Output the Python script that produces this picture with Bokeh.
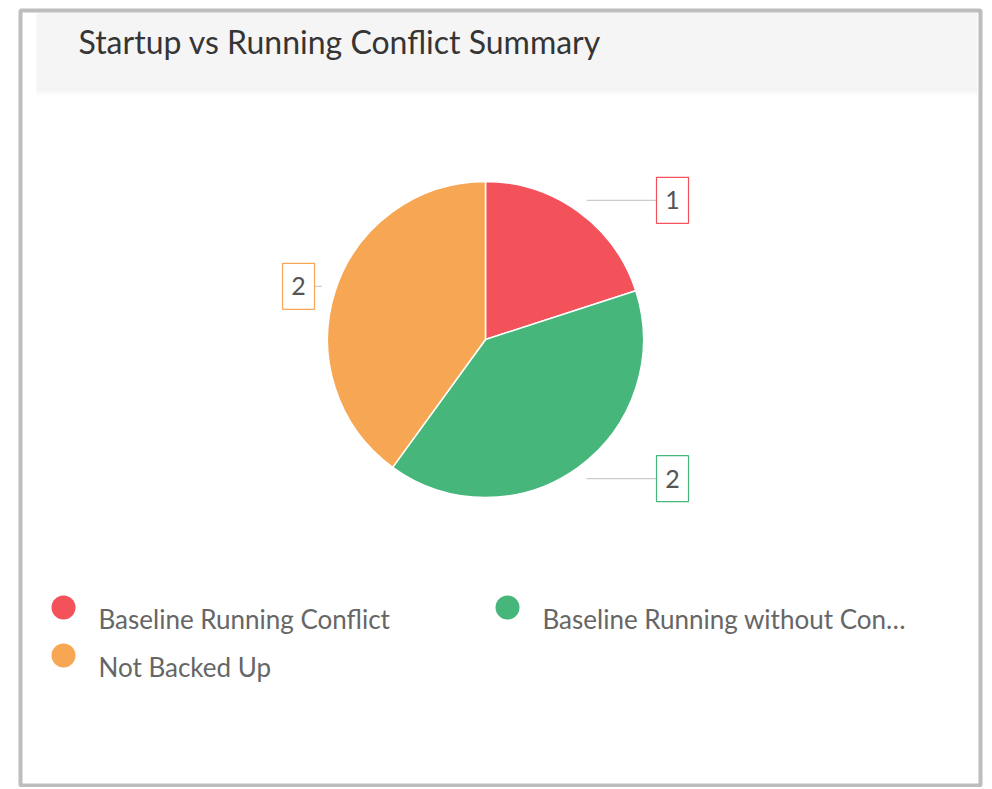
import math
from bokeh.plotting import figure
from bokeh.models import Range1d, BoxAnnotation, Label, ColumnDataSource
from bokeh.core.properties import value
from bokeh.embed import file_html
from bokeh.resources import INLINE

# ---- data ----
title = "Startup vs Running Conflict Summary"
categories = ["Baseline Running Conflict", "Baseline Running without Conflict", "Not Backed Up"]
counts = [1, 2, 2]
colors = ["#f4525b", "#46b67a", "#f7a753"]

# ---- layout (page pixels -> data: x same, y flipped) ----
W, H = 990, 787
def py(y):
    return H - y

p = figure(width=W, height=H, output_backend="svg", toolbar_location=None,
           x_range=Range1d(0, W), y_range=Range1d(0, H),
           min_border=0, background_fill_color="white", border_fill_color="white")
p.axis.visible = False
p.grid.visible = False
p.outline_line_color = None

# card border and header band
p.add_layout(BoxAnnotation(left=36, right=977, top=py(12), bottom=py(88),
                           fill_color="#f5f5f5", fill_alpha=1, line_color=None, level="underlay"))
for i, a in enumerate([0.05, 0.03, 0.015, 0.007]):
    p.add_layout(BoxAnnotation(left=36, right=977, top=py(88 + i * 2), bottom=py(90 + i * 2),
                               fill_color="#000000", fill_alpha=a, line_color=None, level="underlay"))
p.add_layout(BoxAnnotation(left=20, right=980, top=py(10), bottom=py(785),
                           fill_color=None, fill_alpha=0, line_color="#bdbdbd",
                           line_alpha=1, line_width=4))

p.add_layout(Label(x=78, y=py(41), text=title, text_font="Lato",
                   text_font_size="32px", text_color="#353535", text_baseline="middle"))

# ---- pie ----
cx, cy, R = 485, py(339), 158
total = sum(counts)
starts, ends, mids = [], [], []
cum = 0
for c in counts:
    s = math.pi / 2 - 2 * math.pi * cum / total
    cum += c
    e = math.pi / 2 - 2 * math.pi * cum / total
    starts.append(s); ends.append(e); mids.append((s + e) / 2)

src = ColumnDataSource(dict(start=starts, end=ends, color=colors, name=categories, count=counts))
p.wedge(x=cx, y=cy, radius=R, start_angle="start", end_angle="end", direction="clock",
        fill_color="color", line_color="white", line_width=1.5, source=src)

# data labels
ax, ay, bx, tx = [], [], [], []
for m in mids:
    x0 = cx + 172 * math.cos(m)
    y0 = cy + 172 * math.sin(m)
    if math.cos(m) >= 0:
        edge = cx + 171
        bc = edge + 16
    else:
        edge = cx - 171
        bc = edge - 16
    ax.append(x0); ay.append(y0); bx.append(edge); tx.append(bc)
lab = ColumnDataSource(dict(x0=ax, y0=ay, x1=bx, bc=tx, color=colors,
                            txt=[str(c) for c in counts]))
p.segment(x0="x0", y0="y0", x1="x1", y1="y0", line_color="#cccccc", line_width=1.2, source=lab)
p.rect(x="bc", y="y0", width=32, height=46, fill_color="white", line_color="color",
       line_width=1.2, source=lab)
p.text(x="bc", y="y0", text="txt", text_align="center", text_baseline="middle",
       text_font=value("Lato"), text_font_size="25px", text_color="#555555", source=lab)

# ---- legend ----
def short(s, n=28):
    return s if len(s) <= n + 2 else s[:n] + "\u2026"

lx = [63 + 444 * (i % 2) for i in range(len(categories))]
ly = [py(607 + 48 * (i // 2)) for i in range(len(categories))]
leg = ColumnDataSource(dict(x=lx, y=ly, tx=[x + 35 for x in lx], ty=[y - 11 for y in ly],
                            color=colors, txt=[short(c) for c in categories]))
p.scatter(x="x", y="y", size=24, fill_color="color", line_color=None, source=leg)
p.text(x="tx", y="ty", text="txt", text_baseline="middle", text_font=value("Lato"),
       text_font_size="26px", text_color="#666666", source=leg)

open("out.html", "w").write(file_html(p, INLINE))
